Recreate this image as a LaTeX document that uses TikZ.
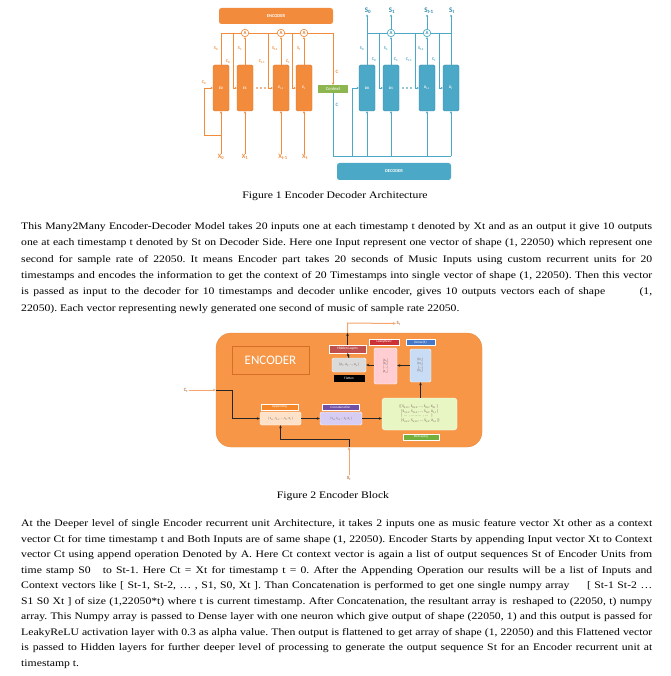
\documentclass[tikz,border=0pt]{standalone}
\usepackage{fontspec}
\setmainfont{Liberation Serif}[FakeStretch=1.17]
\newfontfamily\dsans{Carlito}
\usetikzlibrary{arrows.meta}
\frenchspacing
\definecolor{eor}{RGB}{242,140,60}
\definecolor{eordk}{RGB}{220,115,40}
\definecolor{bcol}{RGB}{75,168,198}
\definecolor{bcoldk}{RGB}{50,140,170}
\definecolor{ctxg}{RGB}{141,182,80}
\definecolor{bigor}{RGB}{247,150,70}
\definecolor{encbord}{RGB}{215,110,40}
\definecolor{lor}{RGB}{245,165,110}
\definecolor{hidcol}{RGB}{192,80,77}
\definecolor{lkcol}{RGB}{205,50,55}
\definecolor{lkbox}{RGB}{255,205,210}
\definecolor{dncol}{RGB}{70,120,200}
\definecolor{dnbox}{RGB}{200,220,245}
\definecolor{flbox}{RGB}{218,218,218}
\definecolor{apcol}{RGB}{245,135,40}
\definecolor{apbox}{RGB}{253,225,200}
\definecolor{cccol}{RGB}{112,80,165}
\definecolor{ccbox}{RGB}{215,205,242}
\definecolor{rsbox}{RGB}{232,246,195}
\definecolor{rscol}{RGB}{115,175,60}
\definecolor{boxtxt}{RGB}{110,90,80}
\tikzset{
  ecell/.style={draw=eordk, fill=eor, rounded corners=1.5pt, minimum width=16pt, minimum height=46pt, inner sep=0, font=\dsans\bfseries\fontsize{3.6}{3.6}\selectfont, text=white},
  dcell/.style={draw=bcoldk, fill=bcol, rounded corners=1.5pt, minimum width=16pt, minimum height=46pt, inner sep=0, font=\dsans\bfseries\fontsize{3.6}{3.6}\selectfont, text=white},
  acirc/.style={circle, draw=eor, fill=white, line width=0.7pt, minimum size=7.5pt, inner sep=0, font=\dsans\bfseries\fontsize{4.8}{4.8}\selectfont, text=eordk},
  bcirc/.style={circle, draw=bcol, fill=white, line width=0.7pt, minimum size=7.5pt, inner sep=0, font=\dsans\bfseries\fontsize{4.8}{4.8}\selectfont, text=bcoldk},
  olab/.style={inner sep=0, font=\dsans\bfseries\fontsize{4.3}{4.3}\selectfont, text=eor},
  blab/.style={inner sep=0, font=\dsans\bfseries\fontsize{4.3}{4.3}\selectfont, text=bcol},
  xlab/.style={inner sep=0.5pt, font=\dsans\bfseries\fontsize{6.5}{6.5}\selectfont, text=eor},
  slab/.style={inner sep=0.5pt, font=\dsans\bfseries\fontsize{7}{7}\selectfont, text=bcoldk},
  rbox/.style={rounded corners=2.5pt, inner sep=0, text=white, font=\dsans\bfseries\fontsize{4.5}{4.5}\selectfont},
  oline/.style={draw=eor, line width=0.8pt},
  oarr/.style={draw=eor, line width=0.8pt, -{Stealth[length=2.3pt,width=2.3pt]}},
  bline/.style={draw=bcol, line width=0.8pt},
  barr/.style={draw=bcol, line width=0.8pt, -{Stealth[length=2.3pt,width=2.3pt]}},
  tag/.style={inner sep=0, text=white, font=\dsans\fontsize{3.4}{3.4}\selectfont, draw=white, line width=0.3pt},
  tbox/.style={inner sep=0, rounded corners=1.5pt, text=boxtxt, font=\dsans\fontsize{3.2}{3.7}\selectfont, align=center, draw=white, line width=0.4pt},
  karr/.style={draw=black!85, line width=1pt, -{Stealth[length=3pt,width=2.6pt]}},
  kline/.style={draw=black!85, line width=1pt},
  lorarr/.style={draw=lor, line width=1pt, -{Stealth[length=3pt,width=2.6pt]}},
  iolab/.style={inner sep=0.5pt, font=\dsans\bfseries\fontsize{4.8}{4.8}\selectfont, text=lor!75!black},
  ptxt/.style={anchor=base west, inner sep=0, font=\fontsize{10}{12}\selectfont},
  ctxt/.style={anchor=base, inner sep=0, font=\fontsize{10}{12}\selectfont},
}
\begin{document}
\begin{tikzpicture}[x=1pt,y=-1pt]
\fill[white] (0,0) rectangle (670,676);
\path[use as bounding box] (0,0) rectangle (670,676);

% ================= FIGURE 1 =================
\node[rbox, fill=eor, minimum width=114pt, minimum height=16pt] (encbox) at (276,16) {ENCODER};
\node[rbox, fill=bcol, minimum width=114pt, minimum height=17pt] (decbox) at (394,171.5) {DECODER};

\node[ecell] (E0) at (221,88) {E0};
\node[ecell] (E1) at (245,88) {E1};
\node[ecell] (Et1) at (281,88) {E\textsubscript{t-1}};
\node[ecell] (Et) at (304,88) {E\textsubscript{t}};

\node[acirc] (A1) at (245,33) {A};
\node[acirc] (A2) at (281,33) {A};
\node[acirc] (A3) at (304,33) {A};

\node[rbox, rounded corners=0pt, fill=ctxg, minimum width=30pt, minimum height=8pt, font=\dsans\fontsize{4.6}{4.6}\selectfont] (ctx) at (333,89) {Context};

\coordinate (tl) at (221,33);
\coordinate (tr) at (333,33);
\draw[oline] (E0.north) -- (tl) -- (A1.west);
\draw[oline] (A1.east) -- (A2.west);
\draw[oline] (A2.east) -- (A3.west);
\draw[oarr] (A3.east) -- (tr) -- (ctx.north);
\draw[oarr] (E1.north) -- (A1.south);
\draw[oarr] (Et1.north) -- (A2.south);
\draw[oarr] (Et.north) -- (A3.south);
\coordinate (eb1) at (233,33);
\coordinate (eb2) at (268,33);
\coordinate (eb3) at (292,33);
\draw[oarr] (eb1) |- (E1.west);
\draw[oarr] (eb2) |- (Et1.west);
\draw[oarr] (eb3) |- (Et.west);

\node[xlab] (X0) at (221,157) {X\textsubscript{0}};
\node[xlab] (X1) at (245,157) {X\textsubscript{1}};
\node[xlab] (Xt1) at (283,157) {X\textsubscript{t-1}};
\node[xlab] (Xt) at (305,157) {X\textsubscript{t}};
\draw[oarr] (X0.north) -- (E0.south);
\draw[oarr] (X1.north) -- (E1.south);
\draw[oarr] (Xt1.north -| Et1.south) -- (Et1.south);
\draw[oarr] (Xt.north -| Et.south) -- (Et.south);
\coordinate (lp) at (221,135);
\coordinate (lpl) at (204,135);
\draw[oarr] (lp) -- (lpl) |- (E0.west);

\foreach \x in {257,261,265} \fill[eordk] (\x,88) circle (0.8);

\node[olab] (lS0) at (216,49) {S\textsubscript{0}};
\node[olab] (lS1) at (240,49) {S\textsubscript{1}};
\node[olab] (lSt1) at (275,49) {S\textsubscript{t-1}};
\node[olab] (lSt) at (299,49) {S\textsubscript{t}};
\node[olab] (lC0) at (228,62) {C\textsubscript{0}};
\node[olab] (lCt1) at (262,62) {C\textsubscript{t-1}};
\node[olab] (lCt) at (288,62) {C\textsubscript{t}};
\node[olab] (lC0b) at (204,83) {C\textsubscript{0}};
\node[olab, font=\dsans\bfseries\fontsize{5}{5}\selectfont] (lCo) at (337,72) {C};

% decoder
\node[dcell] (D0) at (367,88) {D0};
\node[dcell] (D1) at (391,88) {D1};
\node[dcell] (Dt1) at (427,88) {D\textsubscript{t-1}};
\node[dcell] (Dt) at (451,88) {D\textsubscript{t}};
\node[bcirc] (B1) at (391,33) {A};
\node[bcirc] (B2) at (427,33) {A};
\node[slab] (S0) at (368,11) {S\textsubscript{0}};
\node[slab] (S1) at (392,11) {S\textsubscript{1}};
\node[slab] (St1) at (429,11) {S\textsubscript{t-1}};
\node[slab] (St) at (452,11) {S\textsubscript{t}};
\draw[barr] (D0.north) -- (D0.north |- S0.south);
\draw[barr] (D1.north) -- (B1.south);
\draw[barr] (B1.north) -- (B1.north |- S1.south);
\draw[barr] (Dt1.north) -- (B2.south);
\draw[barr] (B2.north) -- (B2.north |- St1.south);
\draw[barr] (Dt.north) -- (Dt.north |- St.south);
\coordinate (dl) at (367,33);
\coordinate (dr) at (451,33);
\draw[bline] (dl) -- (B1.west);
\draw[bline] (B1.east) -- (B2.west);
\draw[bline] (B2.east) -- (dr);
\coordinate (db1) at (379,33);
\coordinate (db2) at (415,33);
\coordinate (db3) at (439,33);
\draw[barr] (db1) |- (D1.west);
\draw[barr] (db2) |- (Dt1.west);
\draw[barr] (db3) |- (Dt.west);
\coordinate (bl) at (333,156);
\coordinate (br) at (451,156);
\draw[bline] (ctx.south) -- (bl) -- (br);
\draw[barr] (D0.south |- bl) -- (D0.south);
\draw[barr] (D1.south |- bl) -- (D1.south);
\draw[barr] (Dt1.south |- bl) -- (Dt1.south);
\draw[barr] (br) -- (Dt.south);
\coordinate (bb) at (352,156);
\draw[barr] (bb) |- (D0.west);
\foreach \x in {403,407,411} \fill[bcoldk] (\x,88) circle (0.8);

\node[blab] (dS0) at (362,49) {S\textsubscript{0}};
\node[blab] (dS1) at (386,49) {S\textsubscript{1}};
\node[blab] (dSt1) at (421,49) {S\textsubscript{t-1}};
\node[blab] (dC0) at (374,60) {C\textsubscript{0}};
\node[blab] (dC1) at (396,60) {C\textsubscript{1}};
\node[blab] (dCt1) at (409,60) {C\textsubscript{t-1}};
\node[blab] (dCt) at (434,60) {C\textsubscript{t}};
\node[blab, font=\dsans\bfseries\fontsize{5}{5}\selectfont] (lCb) at (337,105) {C};

\node[ctxt] (cap1) at (335,199) {Figure 1 Encoder Decoder Architecture};

% ================= Paragraph 1 =================
\node[ptxt] (p1a) at (21,229.5) {\makebox[631pt][s]{This Many2Many Encoder-Decoder Model takes 20 inputs one at each timestamp t denoted by Xt and as an output it give 10 outputs}};
\node[ptxt] (p1b) at (21,245.8) {\makebox[631pt][s]{one at each timestamp t denoted by St on Decoder Side. Here one Input represent one vector of shape (1, 22050) which represent one}};
\node[ptxt] (p1c) at (21,262.1) {\makebox[631pt][s]{second for sample rate of 22050. It means Encoder part takes 20 seconds of Music Inputs using custom recurrent units for 20}};
\node[ptxt] (p1d) at (21,278.4) {\makebox[631pt][s]{timestamps and encodes the information to get the context of 20 Timestamps into single vector of shape (1, 22050). Then this vector}};
\node[ptxt] (p1e) at (21,294.7) {\makebox[631pt][s]{is passed as input to the decoder for 10 timestamps and decoder unlike encoder, gives 10 outputs vectors each of shape\hspace{30pt} (1,}};
\node[ptxt] (p1f) at (21,311) {22050). Each vector representing newly generated one second of music of sample rate 22050.};

% ================= FIGURE 2 =================
\node[fill=bigor, draw=bigor!92!black, line width=0.3pt, rounded corners=15pt, minimum width=266pt, minimum height=114pt, inner sep=0] (encblk) at (349,390) {};
\node[draw=encbord, line width=0.8pt, minimum width=77pt, minimum height=28pt, inner sep=0, text=white, font=\dsans\fontsize{13}{13}\selectfont] (enclab) at (270.5,360) {ENCODER};

\node[tag, fill=hidcol, minimum width=37pt, minimum height=8pt, font=\dsans\fontsize{3.6}{3.6}\selectfont] (hid) at (347.5,349) {Hidden Layers};
\node[tbox, fill=flbox, minimum width=34pt, minimum height=14pt] (fl) at (349,365) {[A\textsubscript{1}, A\textsubscript{2}, ..., A\textsubscript{n}]};
\node[tag, fill=black, draw=black, minimum width=30pt, minimum height=6pt] (fllab) at (349,378) {Flatten};
\node[tag, fill=lkcol, minimum width=30pt, minimum height=6pt] (lklab) at (384,342) {LeakyReLU};
\node[tbox, fill=lkbox, minimum width=23pt, minimum height=36pt] (lk) at (385.5,366) {{[A\textsubscript{1}]}\\{[A\textsubscript{2}]}\\{[...]}\\{[A\textsubscript{n}]}};
\node[tag, fill=dncol, minimum width=29pt, minimum height=6pt] (dnlab) at (420.5,342) {Dense(1)};
\node[tbox, fill=dnbox, minimum width=21pt, minimum height=33pt] (dn) at (420.5,365.5) {{[D\textsubscript{1}]}\\{[D\textsubscript{2}]}\\{[...]}\\{[D\textsubscript{n}]}};
\node[tag, fill=apcol, minimum width=37pt, minimum height=6pt] (aplab) at (279.5,407) {Appending};
\node[tbox, fill=apbox, minimum width=41pt, minimum height=13pt, font=\dsans\fontsize{2.9}{3.4}\selectfont] (ap) at (280.5,418.5) {[ S\textsubscript{t-1}, S\textsubscript{t-2}, ..., S\textsubscript{0}, X\textsubscript{t} ]};
\node[tag, fill=cccol, minimum width=37pt, minimum height=6pt] (cclab) at (340.5,407) {Concatenation};
\node[tbox, fill=ccbox, minimum width=42pt, minimum height=13pt, font=\dsans\fontsize{2.9}{3.4}\selectfont] (cc) at (341,418.5) {[ S\textsubscript{t-1} S\textsubscript{t-2} ... S\textsubscript{0} X\textsubscript{t} ]};
\node[tbox, fill=rsbox, minimum width=75pt, minimum height=32pt, font=\dsans\fontsize{3.6}{4.6}\selectfont, align=left, rounded corners=3pt] (rs) at (419.5,414) {{[[\,S\textsubscript{0,t-1}, S\textsubscript{0,t-2}, ..., S\textsubscript{0,0}, X\textsubscript{0,t} ]}\\{\ \,[\,S\textsubscript{1,t-1}, S\textsubscript{1,t-2}, ..., S\textsubscript{1,0}, X\textsubscript{1,t} ]}\\{\ \,[ \ \ ...\ \ ,\ \ ...\ ...\ ...\ \ ,\ \ ...\ \ \ \ ]}\\{\ \,[\,S\textsubscript{n,t-1}, S\textsubscript{n,t-2}, ..., S\textsubscript{n,0}, X\textsubscript{n,t} ]]}};
\node[tag, fill=rscol, minimum width=36pt, minimum height=6pt] (rslab) at (421,437) {Reshaping};

\draw[karr] (dn.south |- rs.north) -- (dn.south);
\draw[karr] (dn.west) -- (lk.east |- dn.west);
\draw[karr] (lk.west |- fl.east) -- (fl.east);
\draw[karr] (fl.north) -- (hid.south);
\draw[karr] (hid.north) -- (hid.north |- encblk.north);
\coordinate (sturn) at (347.5,323);
\node[iolab, anchor=west] (stout) at (396,323.5) {S\textsubscript{t}};
\draw[lorarr] (hid.north |- encblk.north) -- (sturn) -- (stout.west);

\node[iolab] (ctin) at (186,390) {C\textsubscript{t}};
\draw[lorarr] (ctin.east) -- (ctin.east -| encblk.west);
\coordinate (ctc) at (232,390);
\draw[karr] (ctin.east -| encblk.west) -- (ctc) |- (ap.west);
\draw[karr] (ap.east) -- (cc.west);
\draw[karr] (cc.east) -- (cc.east -| rs.west);

\node[iolab] (xtin) at (349,478) {X\textsubscript{t}};
\draw[lorarr] (xtin.north) -- (xtin.north |- encblk.south);
\coordinate (xturn) at (349,439);
\draw[karr] (xtin.north |- encblk.south) -- (xturn) -| (ap.south);

\node[ctxt] (cap2) at (333,498) {Figure 2 Encoder Block};

% ================= Paragraph 2 =================
\node[ptxt] (p2a) at (21,526.5) {\makebox[631pt][s]{At the Deeper level of single Encoder recurrent unit Architecture, it takes 2 inputs one as music feature vector Xt other as a context}};
\node[ptxt] (p2b) at (21,542.05) {\makebox[631pt][s]{vector Ct for time timestamp t and Both Inputs are of same shape (1, 22050). Encoder Starts by appending Input vector Xt to Context}};
\node[ptxt] (p2c) at (21,557.6) {\makebox[631pt][s]{vector Ct using append operation Denoted by A. Here Ct context vector is again a list of output sequences St of Encoder Units from}};
\node[ptxt] (p2d) at (21,573.15) {\makebox[631pt][s]{time stamp S0\hspace{8pt} to St-1. Here Ct = Xt for timestamp t = 0. After the Appending Operation our results will be a list of Inputs and}};
\node[ptxt] (p2e) at (21,588.7) {\makebox[631pt][s]{Context vectors like [ St-1, St-2, … , S1, S0, Xt ]. Than Concatenation is performed to get one single numpy array\hspace{14pt} [ St-1 St-2 …}};
\node[ptxt] (p2f) at (21,604.25) {\makebox[631pt][s]{S1 S0 Xt ] of size (1,22050*t) where t is current timestamp. After Concatenation, the resultant array is\hspace{2pt} reshaped to (22050, t) numpy}};
\node[ptxt] (p2g) at (21,619.8) {\makebox[631pt][s]{array. This Numpy array is passed to Dense layer with one neuron which give output of shape (22050, 1) and this output is passed for}};
\node[ptxt] (p2h) at (21,635.35) {\makebox[631pt][s]{LeakyReLU activation layer with 0.3 as alpha value. Then output is flattened to get array of shape (1, 22050) and this Flattened vector}};
\node[ptxt] (p2i) at (21,650.9) {\makebox[631pt][s]{is passed to Hidden layers for further deeper level of processing to generate the output sequence St for an Encoder recurrent unit at}};
\node[ptxt] (p2j) at (21,666.45) {timestamp t.};
\end{tikzpicture}
\end{document}
